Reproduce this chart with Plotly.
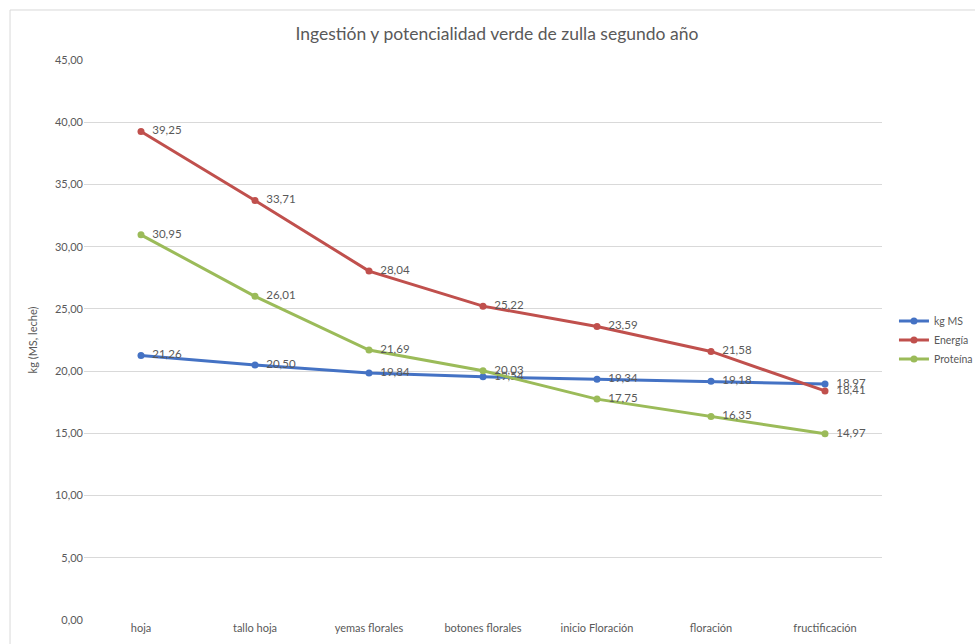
import plotly.graph_objects as go

categories = ["hoja", "tallo hoja", "yemas florales", "botones florales",
              "inicio Floración", "floración", "fructificación"]
kg_ms = [21.26, 20.50, 19.84, 19.54, 19.34, 19.18, 18.97]
energia = [39.25, 33.71, 28.04, 25.22, 23.59, 21.58, 18.41]
proteina = [30.95, 26.01, 21.69, 20.03, 17.75, 16.35, 14.97]
y_ticks = [0, 5, 10, 15, 20, 25, 30, 35, 40, 45]

series = [("kg MS", kg_ms, "#4472C4"),
          ("Energía", energia, "#C0504D"),
          ("Proteína", proteina, "#9BBB59")]

fig = go.Figure()
for name, vals, color in series:
    fig.add_trace(go.Scatter(
        x=categories, y=vals, name=name, mode="lines+markers+text",
        line=dict(color=color, width=3),
        marker=dict(color=color, size=7),
        text=["  " + f"{v:.2f}".replace(".", ",") for v in vals],
        textposition="middle right",
        textfont=dict(color="#595959", size=11.5),
        cliponaxis=False,
    ))

fig.update_layout(
    width=975, height=644,
    margin=dict(l=84, r=93, t=60, b=24, autoexpand=False),
    paper_bgcolor="white", plot_bgcolor="white",
    font=dict(family="Lato, Open Sans, sans-serif", color="#595959", size=11),
    separators=",.",
    title=dict(text="Ingestión y potencialidad verde de zulla segundo año",
               x=0.5175, xref="paper", xanchor="center",
               y=1 - 34 / 644, yanchor="middle",
               font=dict(size=17.5, color="#595959")),
    xaxis=dict(range=[-0.5, 6.5], showgrid=False, showline=False, ticks="", automargin=False,
               tickfont=dict(size=11, color="#595959")),
    yaxis=dict(range=[0, 45], tickvals=y_ticks, tickformat=".2f", automargin=False,
               showgrid=True, gridcolor="#D9D9D9", gridwidth=1,
               zeroline=False, showline=False, ticks="",
               title=dict(text="kg (MS, leche)", font=dict(size=11, color="#595959"), standoff=15),
               tickfont=dict(size=11, color="#595959")),
    legend=dict(x=1.015, y=0.5, xanchor="left", yanchor="middle",
                font=dict(size=10.5, color="#595959"),
                bgcolor="rgba(0,0,0,0)", tracegroupgap=0, itemwidth=30),
    showlegend=True,
)

fig.add_shape(type="rect", xref="paper", yref="paper",
              x0=-0.0927, y0=-0.3, x1=1.3, y1=1.0893,
              line=dict(color="#D9D9D9", width=1), fillcolor="rgba(0,0,0,0)", layer="below")

fig.write_html("out.html", config={"displayModeBar": False},
               post_script="document.body.style.margin='0';document.body.style.overflow='hidden';")
